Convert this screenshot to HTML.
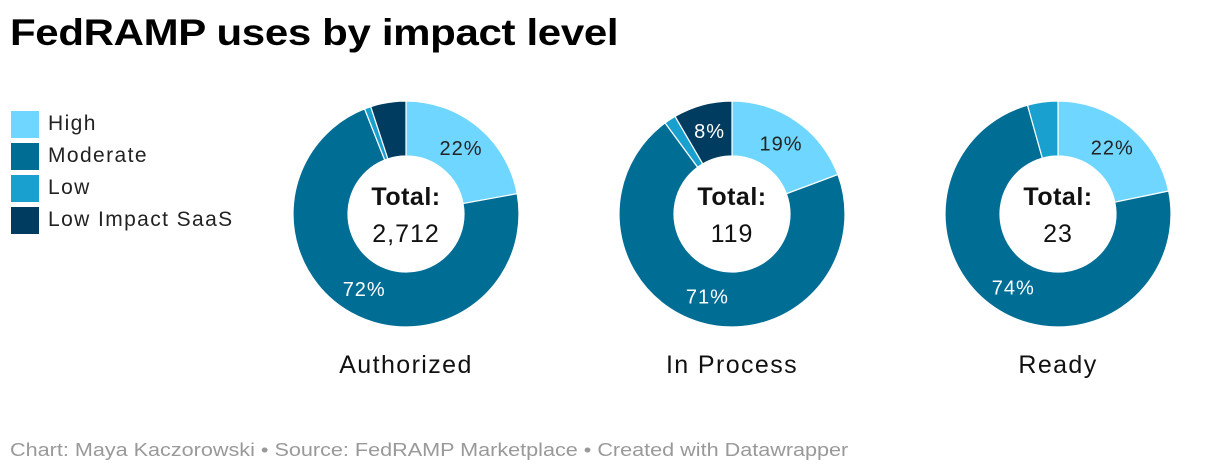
<!DOCTYPE html>
<html><head><meta charset="utf-8">
<style>
body{margin:0;width:1220px;height:476px;background:#fff;font-family:"Liberation Sans",sans-serif;overflow:hidden;position:relative}
#title{position:absolute;left:10px;top:12px;font-size:37px;font-weight:bold;color:#000;letter-spacing:-0.3px;transform:scaleX(1.135);transform-origin:left top;white-space:nowrap}
.leg{position:absolute;left:11px;height:28px;display:flex;align-items:center;font-size:21px;color:#222;letter-spacing:1.4px}
.leg span{display:inline-block;width:28px;height:27px;margin-right:9px}
#footer{position:absolute;left:10px;top:440px;font-size:18px;color:#999;transform:scaleX(1.2);transform-origin:left top;white-space:nowrap}
svg{position:absolute;left:0;top:0}
</style></head><body>
<div id="title">FedRAMP uses by impact level</div>
<div class="leg" style="top:110px"><span style="background:#6fd7ff"></span>High</div>
<div class="leg" style="top:142px"><span style="background:#006d94"></span>Moderate</div>
<div class="leg" style="top:174px"><span style="background:#1aa0cf"></span>Low</div>
<div class="leg" style="top:206px"><span style="background:#003c5f"></span>Low Impact SaaS</div>
<svg id="chart" width="1220" height="476"></svg>
<div id="footer">Chart: Maya Kaczorowski • Source: FedRAMP Marketplace • Created with Datawrapper</div>
<script>
const groups = ["Authorized","In Process","Ready"];
const totals = ["2,712","119","23"];
const highVals = [600,23,5];
const moderateVals = [1950,84,17];
const lowVals = [25,2,1];
const saasVals = [137,10,0];
const colors = ["#6fd7ff","#006d94","#1aa0cf","#003c5f"];
const textCol = ["#222","#fff","#fff","#fff"];
const svg = document.getElementById('chart');
const NS = "http://www.w3.org/2000/svg";
const centersX = [406,732,1058], cy = 214, R = 113, r = 58;
function pt(a, rad, cx){return [cx + rad*Math.sin(a), cy - rad*Math.cos(a)];}
groups.forEach((g,i)=>{
  const cx = centersX[i];
  const vals = [highVals[i],moderateVals[i],lowVals[i],saasVals[i]];
  const sum = vals.reduce((a,b)=>a+b,0);
  let a0 = 0;
  vals.forEach((v,k)=>{
    if(v<=0) return;
    const a1 = a0 + v/sum*2*Math.PI;
    const large = (a1-a0)>Math.PI?1:0;
    const [x0,y0]=pt(a0,R,cx),[x1,y1]=pt(a1,R,cx),[x2,y2]=pt(a1,r,cx),[x3,y3]=pt(a0,r,cx);
    const p=document.createElementNS(NS,'path');
    p.setAttribute('d',`M${x0},${y0}A${R},${R} 0 ${large} 1 ${x1},${y1}L${x2},${y2}A${r},${r} 0 ${large} 0 ${x3},${y3}Z`);
    p.setAttribute('fill',colors[k]);p.setAttribute('stroke','#fff');p.setAttribute('stroke-width','1.2');
    
    
    svg.appendChild(p);
    const pct = v/sum*100;
    if(pct>=7){
      const [lx,ly]=pt((a0+a1)/2,86,cx);
      const t=document.createElementNS(NS,'text');
      t.setAttribute('x',lx);t.setAttribute('y',ly+7);t.setAttribute('text-anchor','middle');
      t.setAttribute('font-size','20');t.setAttribute('fill',textCol[k]);t.setAttribute('letter-spacing','1');
      t.textContent=Math.round(pct)+'%';
      
      
      svg.appendChild(t);
    }
    a0=a1;
  });
  const mk=(txt,y,size,bold,name,ls)=>{const t=document.createElementNS(NS,'text');t.setAttribute('x',cx);t.setAttribute('y',y);t.setAttribute('text-anchor','middle');t.setAttribute('font-size',size);if(bold)t.setAttribute('font-weight','bold');t.setAttribute('fill','#111');t.setAttribute('letter-spacing',ls);t.textContent=txt;
    
    
    svg.appendChild(t);};
  mk('Total:',205,25,true,'total-label','0.5');
  mk(totals[i],242,25,false,'total-value','1');
  mk(g,373,25,false,'donut-title','1.4');
});
</script>
</body></html>
